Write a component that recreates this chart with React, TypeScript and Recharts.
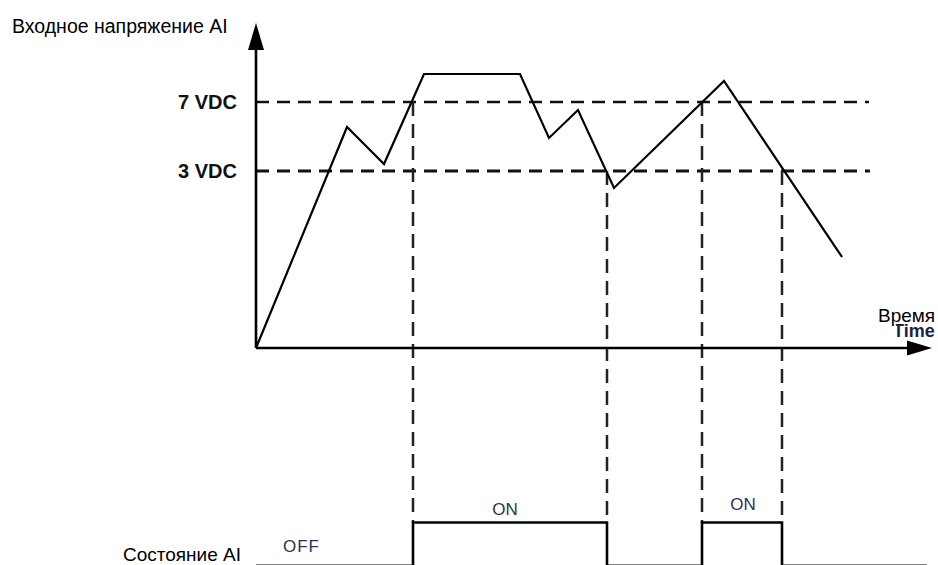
import React from 'react';
import { ComposedChart, Line, XAxis, YAxis, ReferenceLine, ReferenceDot } from 'recharts';

const FONT = '"Liberation Sans", Arial, Helvetica, sans-serif';

// Input signal (time units, level units)
const timeS = [0, 9.1, 12.8, 16.8, 26.4, 29.3, 32.2, 35.8, 46.8, 58.6];
const inputLevel = [0, 22.1, 18.4, 27.4, 27.4, 21.0, 23.8, 16.0, 26.7, 9.1];

// Thresholds
const thresholdValues = [24.6, 17.7];
const thresholdLabels = ['7 VDC', '3 VDC'];

// Switching moments (ON at 7 VDC, OFF at 3 VDC)
const switchTimes = [15.7, 35.1, 44.6, 52.6];
const switchLevels = [24.6, 17.7, 24.6, 17.7];

// AI state (0 = OFF, 1 = ON)
const stateTimes = [-0.3, 15.7, 35.1, 44.6, 52.6, 67.1];
const stateValues = [0, 1, 0, 1, 0, 0];

const inputData = timeS.map((t, i) => ({ t, v: inputLevel[i] }));
const stateData = stateTimes.map((t, i) => ({ t, s: stateValues[i] }));

const W = 938;
const H = 565;

const textShape =
  (label: string, extra: any = {}) =>
  (p: any) =>
    (
      <text x={p.cx} y={p.cy} fontFamily={FONT} fontSize={19} fill="#000" {...extra}>
        {label}
      </text>
    );

const upArrow = (p: any) => (
  <polygon points={`${p.cx},${p.cy} ${p.cx - 8},${p.cy + 27} ${p.cx + 8},${p.cy + 27}`} fill="#000" />
);
const rightArrow = (p: any) => (
  <polygon points={`${p.cx},${p.cy} ${p.cx - 25},${p.cy - 7.5} ${p.cx - 25},${p.cy + 7.5}`} fill="#000" />
);

export default function App() {
  return (
    <div style={{ position: 'absolute', left: 0, top: 0, width: W, height: H, background: '#fff' }}>
      <ComposedChart width={W} height={H} margin={{ top: 0, right: 0, bottom: 0, left: 0 }}>
        <XAxis dataKey="t" type="number" domain={[0, 68.2]} allowDataOverflow hide />
        <YAxis
          yAxisId="v"
          width={256}
          type="number"
          domain={[-21.7, 34.8]}
          allowDataOverflow
          ticks={thresholdValues}
          axisLine={false}
          tickLine={false}
          tick={false}
        />
        <YAxis yAxisId="s" type="number" domain={[0.018, 13.067]} allowDataOverflow hide />

        {/* threshold lines */}
        <ReferenceLine
          yAxisId="v"
          segment={[{ x: 0, y: thresholdValues[0] }, { x: 61.3, y: thresholdValues[0] }]}
          stroke="#111"
          strokeWidth={2.3}
          strokeDasharray="13 8"
          ifOverflow="visible"
        />
        <ReferenceLine
          yAxisId="v"
          segment={[{ x: 0, y: thresholdValues[1] }, { x: 61.4, y: thresholdValues[1] }]}
          stroke="#111"
          strokeWidth={2.9}
          strokeDasharray="13 8"
          ifOverflow="visible"
        />

        {/* switching verticals */}
        {switchTimes.map((t, i) => (
          <ReferenceLine
            key={'sw' + i}
            yAxisId="v"
            segment={[{ x: t, y: switchLevels[i] }, { x: t, y: -17.45 }]}
            stroke="#222"
            strokeWidth={2.5}
            strokeDasharray="14 8"
            ifOverflow="visible"
          />
        ))}

        {/* axes */}
        <ReferenceLine yAxisId="v" segment={[{ x: 0, y: 0 }, { x: 0, y: 30 }]} stroke="#000" strokeWidth={2.6} ifOverflow="visible" />
        <ReferenceLine yAxisId="v" segment={[{ x: 0, y: 0 }, { x: 65.5, y: 0 }]} stroke="#000" strokeWidth={2.6} ifOverflow="visible" />
        <ReferenceDot yAxisId="v" x={0} y={32.5} r={0} shape={upArrow} ifOverflow="visible" />
        <ReferenceDot yAxisId="v" x={67.6} y={0} r={0} shape={rightArrow} ifOverflow="visible" />

        <Line
          yAxisId="v"
          data={inputData}
          dataKey="v"
          type="linear"
          stroke="#000"
          strokeWidth={2.2}
          dot={false}
          isAnimationActive={false}
        />
        <Line
          yAxisId="s"
          data={stateData}
          dataKey="s"
          type="stepAfter"
          stroke="#000"
          strokeWidth={2.6}
          dot={false}
          isAnimationActive={false}
        />

        {/* threshold tick labels */}
        {thresholdValues.map((v, i) => (
          <ReferenceDot
            key={'tl' + i}
            yAxisId="v"
            x={-1.9}
            y={v}
            r={0}
            ifOverflow="visible"
            shape={textShape(thresholdLabels[i], {
              fontSize: 20,
              fontWeight: 'bold',
              fill: '#111',
              textAnchor: 'end',
              dy: '0.36em',
            })}
          />
        ))}

        {/* text */}
        <ReferenceDot
          yAxisId="v"
          x={-24.4}
          y={31.5}
          r={0}
          ifOverflow="visible"
          shape={textShape('Входное напряжение AI', { fontSize: 19.5 })}
        />
        <ReferenceDot
          yAxisId="v"
          x={63.7}
          y={1.1}
          r={0}
          ifOverflow="visible"
          shape={textShape('Time', { fontSize: 18, fontWeight: 'bold', fill: '#1b2440' })}
        />
        <ReferenceDot
          yAxisId="v"
          x={62.2}
          y={2.6}
          r={0}
          ifOverflow="visible"
          shape={textShape('Время', { stroke: '#fff', strokeWidth: 4, paintOrder: 'stroke' })}
        />
        <ReferenceDot
          yAxisId="v"
          x={-1.5}
          y={-21.3}
          r={0}
          ifOverflow="visible"
          shape={textShape('Состояние AI', { textAnchor: 'end' })}
        />
        <ReferenceDot
          yAxisId="v"
          x={2.7}
          y={-20.4}
          r={0}
          ifOverflow="visible"
          shape={textShape('OFF', { fontSize: 17, letterSpacing: 1, fill: '#2a3550' })}
        />
        <ReferenceDot
          yAxisId="v"
          x={24.9}
          y={-16.7}
          r={0}
          ifOverflow="visible"
          shape={textShape('ON', { fontSize: 17, textAnchor: 'middle', fill: '#2a3550' })}
        />
        <ReferenceDot
          yAxisId="v"
          x={48.7}
          y={-16.2}
          r={0}
          ifOverflow="visible"
          shape={textShape('ON', { fontSize: 17, textAnchor: 'middle', fill: '#2a3550' })}
        />
      </ComposedChart>
    </div>
  );
}
